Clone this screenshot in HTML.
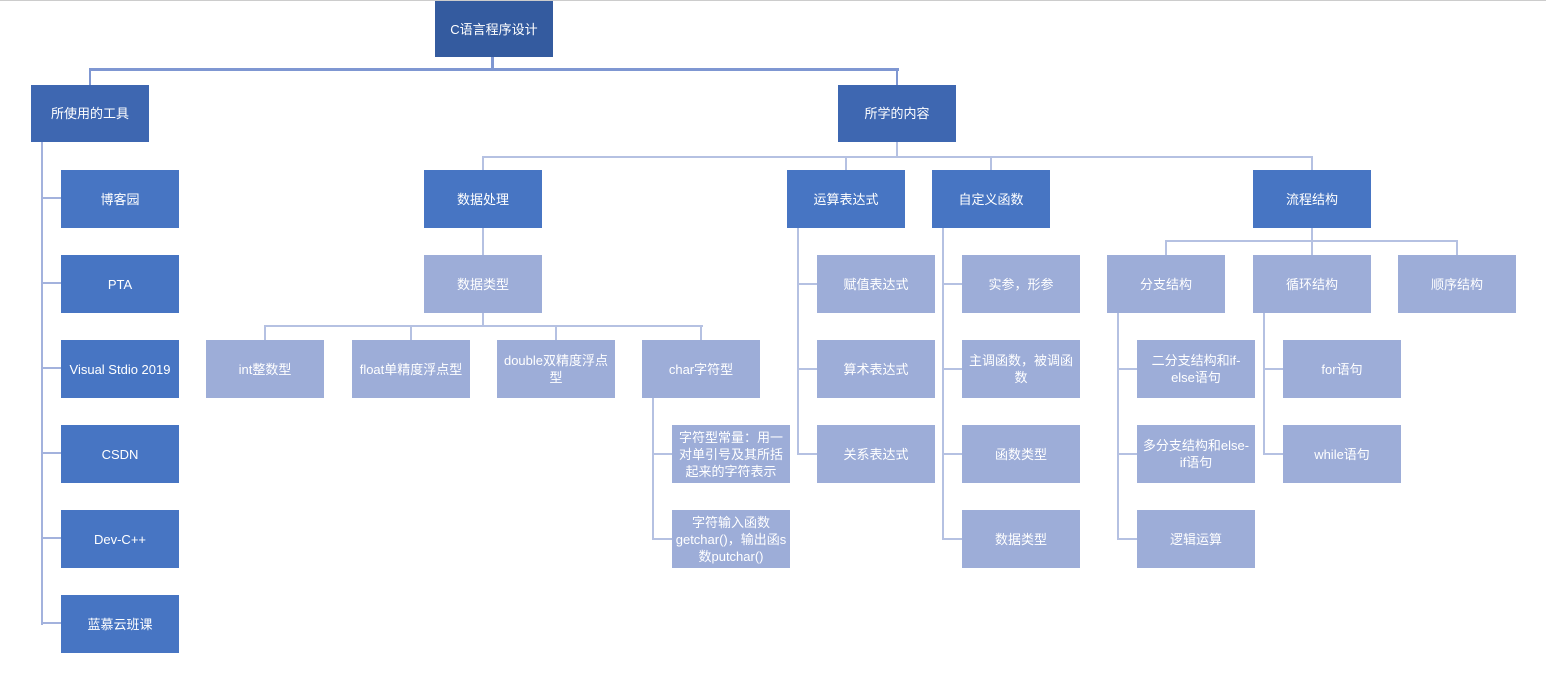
<!DOCTYPE html>
<html><head><meta charset="utf-8"><style>
body{margin:0;width:1546px;height:682px;background:#fff;position:relative;overflow:hidden;font-family:"Liberation Sans","Noto Sans CJK SC",sans-serif}
.b{position:absolute;width:118px;height:58px;display:flex;align-items:center;justify-content:center;text-align:center;color:#fff;font-size:13px;line-height:17px;box-sizing:border-box;padding:0 5px}
.t{background:#345B9F}.l1{background:#3E67B1}.l2{background:#4775C3}.l3{background:#9DADD8}
.h{position:absolute;height:2px;background:#B5C1E2}.v{position:absolute;width:2px;background:#B5C1E2}
.d{background:#7F97D2}.m{background:#A3B2DD}
</style></head><body>
<div style="position:absolute;left:0;top:0;width:1546px;height:1px;background:#ccc"></div>
<div class="v d" style="left:491px;top:57px;height:13px;width:3px"></div>
<div class="h d" style="left:89px;top:68px;width:810px;height:3px"></div>
<div class="v d" style="left:89px;top:68px;height:17px"></div>
<div class="v d" style="left:896px;top:68px;height:17px"></div>
<div class="v m" style="left:41px;top:142px;height:483px"></div>
<div class="h m" style="left:41px;top:197px;width:20px"></div>
<div class="h m" style="left:41px;top:282px;width:20px"></div>
<div class="h m" style="left:41px;top:367px;width:20px"></div>
<div class="h m" style="left:41px;top:452px;width:20px"></div>
<div class="h m" style="left:41px;top:537px;width:20px"></div>
<div class="h m" style="left:41px;top:622px;width:20px"></div>
<div class="v" style="left:896px;top:142px;height:16px"></div>
<div class="h" style="left:482px;top:156px;width:831px"></div>
<div class="v" style="left:482px;top:156px;height:14px"></div>
<div class="v" style="left:845px;top:156px;height:14px"></div>
<div class="v" style="left:990px;top:156px;height:14px"></div>
<div class="v" style="left:1311px;top:156px;height:14px"></div>
<div class="v" style="left:482px;top:227px;height:28px"></div>
<div class="v" style="left:482px;top:312px;height:14px"></div>
<div class="h" style="left:264px;top:325px;width:439px"></div>
<div class="v" style="left:264px;top:325px;height:15px"></div>
<div class="v" style="left:410px;top:325px;height:15px"></div>
<div class="v" style="left:555px;top:325px;height:15px"></div>
<div class="v" style="left:700px;top:325px;height:15px"></div>
<div class="v" style="left:652px;top:397px;height:142px"></div>
<div class="h" style="left:652px;top:453px;width:20px"></div>
<div class="h" style="left:652px;top:538px;width:20px"></div>
<div class="v" style="left:797px;top:227px;height:227px"></div>
<div class="h" style="left:797px;top:283px;width:20px"></div>
<div class="h" style="left:797px;top:368px;width:20px"></div>
<div class="h" style="left:797px;top:453px;width:20px"></div>
<div class="v" style="left:942px;top:227px;height:312px"></div>
<div class="h" style="left:942px;top:283px;width:20px"></div>
<div class="h" style="left:942px;top:368px;width:20px"></div>
<div class="h" style="left:942px;top:453px;width:20px"></div>
<div class="h" style="left:942px;top:538px;width:20px"></div>
<div class="v" style="left:1311px;top:227px;height:28px"></div>
<div class="h" style="left:1165px;top:240px;width:293px"></div>
<div class="v" style="left:1165px;top:240px;height:15px"></div>
<div class="v" style="left:1456px;top:240px;height:15px"></div>
<div class="v" style="left:1117px;top:312px;height:227px"></div>
<div class="h" style="left:1117px;top:368px;width:20px"></div>
<div class="h" style="left:1117px;top:453px;width:20px"></div>
<div class="h" style="left:1117px;top:538px;width:20px"></div>
<div class="v" style="left:1263px;top:312px;height:142px"></div>
<div class="h" style="left:1263px;top:368px;width:20px"></div>
<div class="h" style="left:1263px;top:453px;width:20px"></div>
<div class="b t" style="left:435px;top:1px;height:56px">C语言程序设计</div>
<div class="b l1" style="left:31px;top:85px;height:57px">所使用的工具</div>
<div class="b l1" style="left:838px;top:85px;height:57px">所学的内容</div>
<div class="b l2" style="left:61px;top:170px">博客园</div>
<div class="b l2" style="left:61px;top:255px">PTA</div>
<div class="b l2" style="left:61px;top:340px;padding:0 2px">Visual Stdio 2019</div>
<div class="b l2" style="left:61px;top:425px">CSDN</div>
<div class="b l2" style="left:61px;top:510px">Dev-C++</div>
<div class="b l2" style="left:61px;top:595px">蓝慕云班课</div>
<div class="b l2" style="left:424px;top:170px">数据处理</div>
<div class="b l2" style="left:787px;top:170px">运算表达式</div>
<div class="b l2" style="left:932px;top:170px">自定义函数</div>
<div class="b l2" style="left:1253px;top:170px">流程结构</div>
<div class="b l3" style="left:424px;top:255px">数据类型</div>
<div class="b l3" style="left:206px;top:340px">int整数型</div>
<div class="b l3" style="left:352px;top:340px;padding:0 2px">float单精度浮点型</div>
<div class="b l3" style="left:497px;top:340px;padding:0 2px">double双精度浮点型</div>
<div class="b l3" style="left:642px;top:340px">char字符型</div>
<div class="b l3" style="left:672px;top:425px;padding:0 2px">字符型常量：用一对单引号及其所括起来的字符表示</div>
<div class="b l3" style="left:672px;top:510px;padding:0 2px">字符输入函数getchar()，输出函s数putchar()</div>
<div class="b l3" style="left:817px;top:255px">赋值表达式</div>
<div class="b l3" style="left:817px;top:340px">算术表达式</div>
<div class="b l3" style="left:817px;top:425px">关系表达式</div>
<div class="b l3" style="left:962px;top:255px">实参，形参</div>
<div class="b l3" style="left:962px;top:340px;padding:0 2px">主调函数，被调函数</div>
<div class="b l3" style="left:962px;top:425px">函数类型</div>
<div class="b l3" style="left:962px;top:510px">数据类型</div>
<div class="b l3" style="left:1107px;top:255px">分支结构</div>
<div class="b l3" style="left:1253px;top:255px">循环结构</div>
<div class="b l3" style="left:1398px;top:255px">顺序结构</div>
<div class="b l3" style="left:1137px;top:340px">二分支结构和if-else语句</div>
<div class="b l3" style="left:1137px;top:425px">多分支结构和else-if语句</div>
<div class="b l3" style="left:1137px;top:510px">逻辑运算</div>
<div class="b l3" style="left:1283px;top:340px">for语句</div>
<div class="b l3" style="left:1283px;top:425px">while语句</div>
</body></html>
